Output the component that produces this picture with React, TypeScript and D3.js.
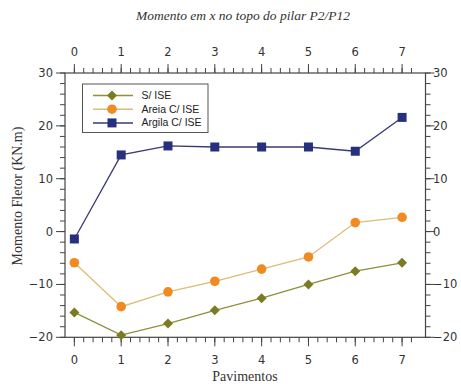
import React from "react";
import * as d3 from "d3";

const pavimentos = [0, 1, 2, 3, 4, 5, 6, 7];
const sIse = [-15.3, -19.6, -17.4, -14.9, -12.6, -10.0, -7.5, -5.9];
const areia = [-5.9, -14.2, -11.4, -9.4, -7.1, -4.8, 1.7, 2.7];
const argila = [-1.4, 14.5, 16.2, 16.0, 16.0, 16.0, 15.2, 21.6];
const yTicks = [-20, -10, 0, 10, 20, 30];
const seriesNames = ["S/ ISE", "Areia C/ ISE", "Argila C/ ISE"];

const W = 461, H = 384;
const L = 65, R = 425.5, T = 73, B = 337.3;

export default function App() {
  const x = d3.scaleLinear().domain([-0.2, 7.5]).range([L, R]);
  const y = d3.scaleLinear().domain([-20, 30]).range([B, T]);
  const xMinor = d3.range(0, 38).map((i) => -0.2 + i * 0.2).filter((v) => v > -0.1 && v < 7.5);
  const yMinor = d3.range(-20, 31, 2);
  const line = d3.line<number>().x((_, i) => x(pavimentos[i])).y((d) => y(d));
  const tickFont = { fontFamily: "DejaVu Sans", fontSize: 11.5, fill: "#333" };
  const series = [
    { name: seriesNames[0], data: sIse, line: "#8f8f3a", mark: "#7b7b22", shape: "diamond" },
    { name: seriesNames[1], data: areia, line: "#dcbc78", mark: "#f28a22", shape: "circle" },
    { name: seriesNames[2], data: argila, line: "#3a3a72", mark: "#27307f", shape: "square" },
  ];
  const marker = (shape: string, cx: number, cy: number, color: string, key: any) => {
    if (shape === "diamond") {
      const s = 5;
      return <path key={key} d={`M${cx},${cy - s}L${cx + s},${cy}L${cx},${cy + s}L${cx - s},${cy}Z`} fill={color} />;
    }
    if (shape === "circle") return <circle key={key} cx={cx} cy={cy} r={4.8} fill={color} />;
    return <rect key={key} x={cx - 4.5} y={cy - 4.5} width={9} height={9} fill={color} />;
  };
  return (
    <svg width={W} height={H} style={{ position: "absolute", left: 0, top: 0, background: "#fff" }}>
      <text x={243} y={20} textAnchor="middle" fontFamily="Liberation Serif" fontStyle="italic" fontSize={13.5} fill="#333">
        Momento em x no topo do pilar P2/P12
      </text>
      {/* frame */}
      <rect x={L} y={T} width={R - L} height={B - T} fill="none" stroke="#444" strokeWidth={1.2} />
      {/* x ticks */}
      {xMinor.map((v, i) => (
        <g key={"xm" + i}>
          <line x1={x(v)} x2={x(v)} y1={B} y2={B + 5} stroke="#444" />
          <line x1={x(v)} x2={x(v)} y1={T} y2={T - 5} stroke="#444" />
        </g>
      ))}
      {pavimentos.map((v) => (
        <g key={"xM" + v}>
          <line x1={x(v)} x2={x(v)} y1={B} y2={B + 9} stroke="#444" />
          <line x1={x(v)} x2={x(v)} y1={T} y2={T - 9} stroke="#444" />
          <text x={x(v)} y={364} textAnchor="middle" {...tickFont}>{v}</text>
          <text x={x(v)} y={56} textAnchor="middle" {...tickFont}>{v}</text>
        </g>
      ))}
      {/* y ticks */}
      {yMinor.map((v) => (
        <g key={"ym" + v}>
          <line x1={L} x2={L - 5} y1={y(v)} y2={y(v)} stroke="#444" />
          <line x1={R} x2={R + 5} y1={y(v)} y2={y(v)} stroke="#444" />
        </g>
      ))}
      {yTicks.map((v) => (
        <g key={"yM" + v}>
          <line x1={L} x2={L - 9} y1={y(v)} y2={y(v)} stroke="#444" />
          <line x1={R} x2={R + 9} y1={y(v)} y2={y(v)} stroke="#444" />
          <text x={53} y={y(v) + 4} textAnchor="end" {...tickFont}>{v < 0 ? "\u2212" + Math.abs(v) : v}</text>
          <text x={433} y={y(v) + 4} textAnchor="start" {...tickFont}>{v < 0 ? "\u2212" + Math.abs(v) : v}</text>
        </g>
      ))}
      <text x={245} y={381} textAnchor="middle" fontFamily="Liberation Serif" fontSize={14} fill="#333">Pavimentos</text>
      <text transform="translate(22,196) rotate(-90)" textAnchor="middle" fontFamily="Liberation Serif" fontSize={14} fill="#333">
        Momento Fletor (KN.m)
      </text>
      {/* series */}
      {series.map((s, si) => (
        <g key={"s" + si}>
          <path d={line(s.data) || ""} fill="none" stroke={s.line} strokeWidth={1.3} />
          {s.data.map((d, i) => marker(s.shape, x(pavimentos[i]), y(d), s.mark, i))}
        </g>
      ))}
      {/* legend */}
      <rect x={82.5} y={84} width={125.5} height={48.5} fill="#fff" stroke="#555" strokeWidth={1} />
      {series.map((s, i) => {
        const ly = 95.5 + i * 13.7;
        return (
          <g key={"lg" + i}>
            <line x1={93} x2={133} y1={ly} y2={ly} stroke={s.line} strokeWidth={1.5} />
            {marker(s.shape, 112, ly, s.mark, "m")}
            <text x={141.5} y={ly + 3.5} fontFamily="Liberation Sans" fontSize={10.5} fill="#222">{s.name}</text>
          </g>
        );
      })}
    </svg>
  );
}
